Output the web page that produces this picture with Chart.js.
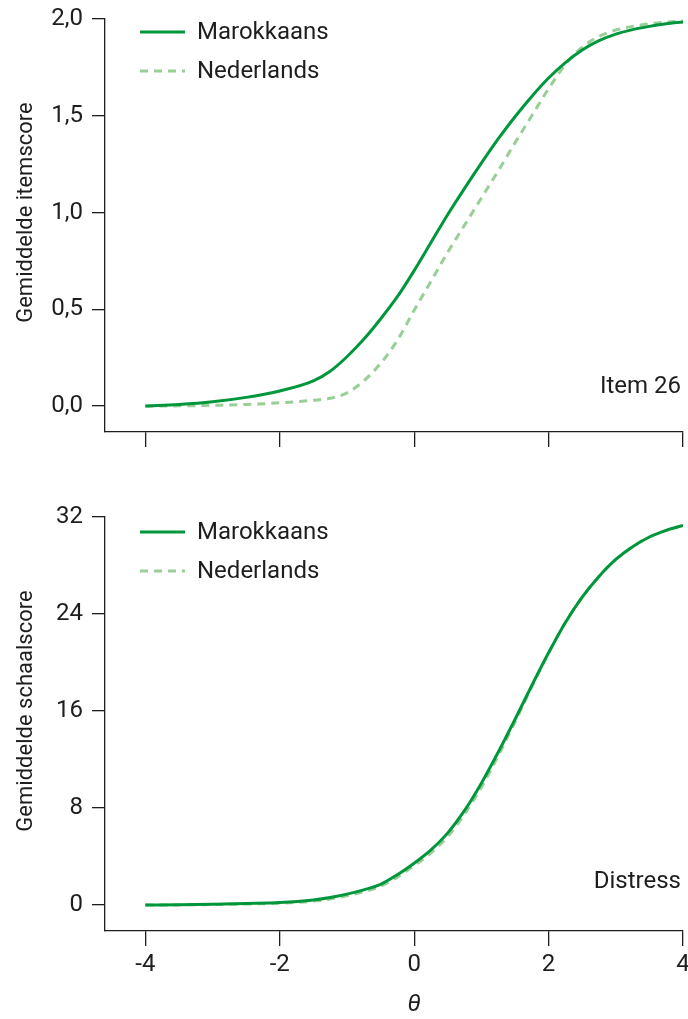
<!DOCTYPE html>
<html>
<head>
<meta charset="utf-8">
<script src="https://cdn.jsdelivr.net/npm/chart.js@4.4.1/dist/chart.umd.min.js"></script>
<style>
  html, body { margin: 0; padding: 0; background: #fff; }
  #wrap { position: relative; width: 688px; height: 1019px; }
  #top { position: absolute; left: 0; top: 0; }
  #bottom { position: absolute; left: 0; top: 470px; }
</style>
</head>
<body>
<div id="wrap">
  <canvas id="top" width="688" height="470"></canvas>
  <canvas id="bottom" width="688" height="549"></canvas>
</div>
<script>
// theta grid
var theta = [-4, -3.5, -3, -2.5, -2, -1.5, -1.25, -1, -0.75, -0.5, -0.25, 0, 0.25, 0.5, 0.75, 1, 1.25, 1.5, 1.75, 2, 2.25, 2.5, 2.75, 3, 3.25, 3.5, 3.75, 4];

// Item 26
var itemMarokkaans = [0, 0.008, 0.022, 0.045, 0.078, 0.13, 0.18, 0.255, 0.345, 0.45, 0.565, 0.70, 0.845, 0.99, 1.125, 1.255, 1.38, 1.495, 1.60, 1.695, 1.775, 1.84, 1.888, 1.922, 1.945, 1.962, 1.976, 1.985];
var itemNederlands = [0, 0.001, 0.004, 0.008, 0.017, 0.03, 0.04, 0.068, 0.13, 0.22, 0.34, 0.495, 0.645, 0.795, 0.935, 1.075, 1.215, 1.36, 1.50, 1.64, 1.765, 1.855, 1.91, 1.943, 1.962, 1.975, 1.984, 1.99];

// Distress
var schaalMarokkaans = [0, 0.02, 0.06, 0.12, 0.2, 0.42, 0.62, 0.9, 1.25, 1.7, 2.5, 3.45, 4.55, 5.95, 7.8, 10.05, 12.6, 15.3, 18.1, 20.8, 23.3, 25.4, 27.1, 28.5, 29.55, 30.35, 30.9, 31.3];
var schaalNederlands = [0, 0.01, 0.04, 0.08, 0.15, 0.32, 0.5, 0.77, 1.1, 1.55, 2.3, 3.25, 4.3, 5.65, 7.5, 9.7, 12.3, 15.1, 18.0, 20.8, 23.3, 25.4, 27.1, 28.5, 29.55, 30.35, 30.9, 31.3];

var xTicks = [-4, -2, 0, 2, 4];
var itemTicks = [0, 0.5, 1, 1.5, 2];
var schaalTicks = [0, 8, 16, 24, 32];

var seriesNames = ['Marokkaans', 'Nederlands'];

var FONT = 'Roboto, "Noto Sans", sans-serif';
var INK = '#1e1e1e';
var SOLID = '#00973c';
var LIGHT = '#97cf97';

function points(vals) {
    var out = [];
    for (var i = 0; i < theta.length; i++) out.push({x: theta[i], y: vals[i]});
    return out;
}

var textPlugin = {
    id: 'texts',
    afterDraw: function(chart) {
        var o = chart.options.plugins.texts;
        var ctx = chart.ctx;
        var xs = chart.scales.x, ys = chart.scales.y;
        ctx.save();
        ctx.fillStyle = INK;

        // legend
        var rows = [o.legendY, o.legendY + 39];
        for (var i = 0; i < 2; i++) {
            var ds = chart.data.datasets[i];
            ctx.strokeStyle = ds.borderColor;
            ctx.lineWidth = ds.borderWidth;
            ctx.setLineDash(ds.borderDash || []);
            ctx.beginPath();
            ctx.moveTo(140, rows[i]);
            ctx.lineTo(185, rows[i]);
            ctx.stroke();
            ctx.setLineDash([]);
            ctx.font = '24px ' + FONT;
            ctx.textAlign = 'left';
            ctx.textBaseline = 'middle';
            ctx.fillText(ds.label, 197, rows[i] + 1);
        }

        // panel label
        ctx.textAlign = 'right';
        ctx.fillText(o.panel, 681, o.panelY);

        // y axis title
        ctx.save();
        ctx.font = '22px ' + FONT;
        ctx.textAlign = 'center';
        ctx.textBaseline = 'middle';
        ctx.translate(26, ys.getPixelForValue(o.yMid));
        ctx.rotate(-Math.PI / 2);
        ctx.fillText(o.yTitle, 0, 0);
        ctx.restore();

        // x axis title
        if (o.xTitle) {
            ctx.font = 'italic 24px ' + FONT;
            ctx.textAlign = 'center';
            ctx.textBaseline = 'middle';
            ctx.fillText(o.xTitle, xs.getPixelForValue(0), o.xTitleY);
        }
        ctx.restore();
    }
};

function makeChart(id, a, b, cfg) {
    return new Chart(document.getElementById(id), {
        type: 'line',
        data: {
            datasets: [
                {
                    label: seriesNames[0],
                    data: points(a),
                    borderColor: SOLID,
                    borderWidth: 3,
                    pointRadius: 0,
                    cubicInterpolationMode: 'monotone',
                    order: 1
                },
                {
                    label: seriesNames[1],
                    data: points(b),
                    borderColor: LIGHT,
                    borderWidth: 3,
                    borderDash: [8, 6],
                    pointRadius: 0,
                    cubicInterpolationMode: 'monotone',
                    order: 2
                }
            ]
        },
        options: {
            responsive: false,
            animation: false,
            devicePixelRatio: 1,
            layout: {padding: {left: 0, right: 5, top: cfg.top, bottom: 0}},
            plugins: {
                legend: {display: false},
                tooltip: {enabled: false},
                texts: cfg.texts
            },
            scales: {
                x: {
                    type: 'linear',
                    min: -4.6,
                    max: 4,
                    afterBuildTicks: function(s) { s.ticks = xTicks.map(function(v) { return {value: v}; }); },
                    afterFit: function(s) { s.height = cfg.xHeight; s.paddingLeft = 0; s.paddingRight = 0; },
                    grid: {drawOnChartArea: false, drawTicks: true, tickLength: 15, color: INK, lineWidth: 1.3},
                    border: {display: true, color: INK, width: 1.3},
                    ticks: {
                        display: cfg.xLabels,
                        padding: 5,
                        color: INK,
                        font: {family: FONT, size: 24},
                        maxRotation: 0,
                        callback: function(v) { return String(v); }
                    }
                },
                y: {
                    type: 'linear',
                    min: cfg.yMin,
                    max: cfg.yMax,
                    afterBuildTicks: function(s) { s.ticks = cfg.yTicks.map(function(v) { return {value: v}; }); },
                    afterFit: function(s) { s.width = 105; s.paddingTop = 0; s.paddingBottom = 0; },
                    grid: {drawOnChartArea: false, drawTicks: true, tickLength: 13, color: INK, lineWidth: 1.3},
                    border: {display: true, color: INK, width: 1.3},
                    ticks: {
                        padding: 9,
                        color: INK,
                        font: {family: FONT, size: 24},
                        callback: cfg.fmt
                    }
                }
            }
        },
        plugins: [textPlugin]
    });
}

makeChart('top', itemMarokkaans, itemNederlands, {
    top: 19,
    xHeight: 38,
    xLabels: false,
    yMin: -0.134,
    yMax: 2,
    yTicks: itemTicks,
    fmt: function(v) { return v.toFixed(1).replace('.', ','); },
    texts: {legendY: 32, panel: 'Item 26', panelY: 387, yTitle: 'Gemiddelde itemscore', yMid: 1}
});

makeChart('bottom', schaalMarokkaans, schaalNederlands, {
    top: 47,
    xHeight: 88,
    xLabels: true,
    yMin: -2.144,
    yMax: 32,
    yTicks: schaalTicks,
    fmt: function(v) { return String(v); },
    texts: {legendY: 62, panel: 'Distress', panelY: 412, yTitle: 'Gemiddelde schaalscore', yMid: 16, xTitle: 'θ', xTitleY: 535}
});
</script>
</body>
</html>
